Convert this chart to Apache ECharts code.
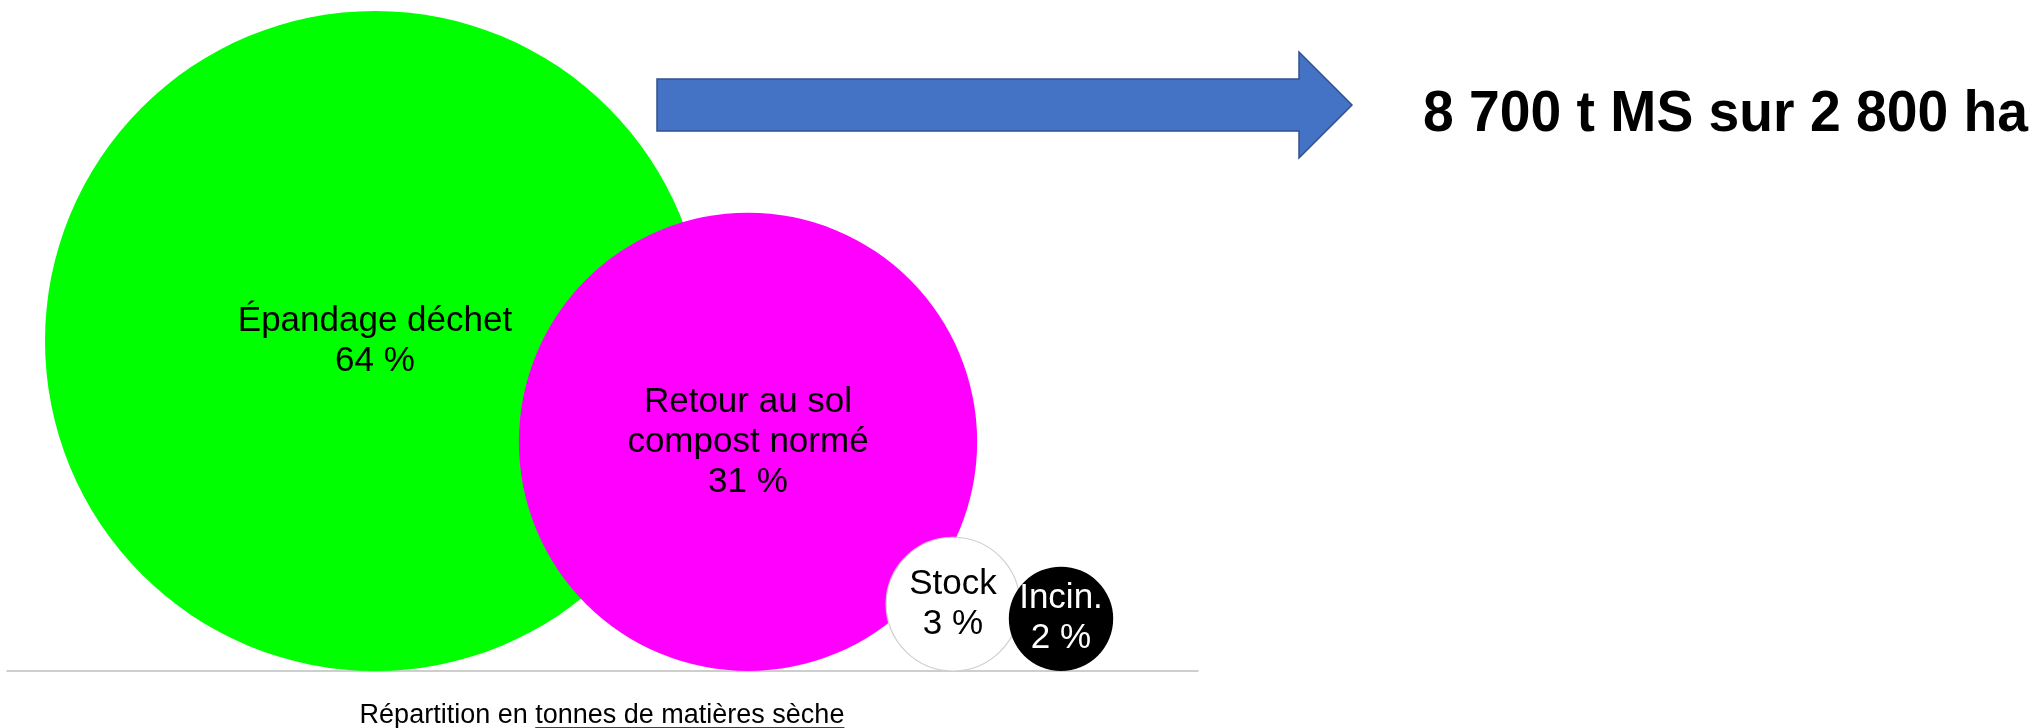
<!DOCTYPE html>
<html>
<head>
<meta charset="utf-8">
<script src="https://cdn.jsdelivr.net/npm/echarts@6/dist/echarts.min.js"></script>
<style>
  html, body { margin: 0; padding: 0; background: #ffffff; }
  #chart { width: 2041px; height: 728px; }
</style>
</head>
<body>
<div id="chart"></div>
<script>
// ---- data ----
const categories = ['Épandage déchet', 'Retour au sol\ncompost normé', 'Stock', 'Incin.'];
const percents = [64, 31, 3, 2];
const tonnes = [5600, 2700, 230, 140];          // t MS
const xCenters = [368, 741, 946, 1054];          // bubble positions along the baseline
const headline = '8 700 t MS sur 2 800 ha';
const captionPlain = 'Répartition en ';
const captionUnderlined = 'tonnes de matières sèche';

// ---- styles ----
const colors = ['#00ff00', '#ff00ff', '#ffffff', '#000000'];
const labelColors = ['#000000', '#000000', '#000000', '#ffffff'];
const sizeK = 8.82;                               // diameter = k * sqrt(tonnes)
const diam = v => sizeK * Math.sqrt(v);

const data = categories.map((c, i) => ({
  name: c,
  value: [xCenters[i], diam(tonnes[i]) / 2, tonnes[i], percents[i]],
  symbolSize: diam(tonnes[i]),
  itemStyle: {
    color: colors[i],
    opacity: 1,
    borderColor: i === 2 ? '#cfcfcf' : colors[i],
    borderWidth: i === 2 ? 1.2 : 0
  },
  label: { color: labelColors[i] }
}));

// text measurement
const ctx = document.createElement('canvas').getContext('2d');
const capFont = '27px "Liberation Sans", Arial, sans-serif';
ctx.font = capFont;
const w1 = ctx.measureText(captionPlain).width;
const w2 = ctx.measureText(captionUnderlined).width;
const capCenter = 602;
const capLeft = capCenter - (w1 + w2) / 2;
const capY = 716;

const headFont = 'bold 57px "Liberation Sans", Arial, sans-serif';
ctx.font = headFont;
const headW = ctx.measureText(headline).width;
const headScale = 605 / headW;

const chart = echarts.init(document.getElementById('chart'), null, { renderer: 'canvas' });
chart.setOption({
  backgroundColor: '#ffffff',
  animation: false,
  grid: { left: 7, top: 0, width: 1191, height: 671, containLabel: false },
  xAxis: {
    type: 'value', min: 0, max: 1191,
    axisLine: { show: true, lineStyle: { color: '#bfbfbf', width: 1.5 } },
    axisTick: { show: false }, axisLabel: { show: false }, splitLine: { show: false }
  },
  yAxis: {
    type: 'value', min: 0, max: 671,
    axisLine: { show: false }, axisTick: { show: false },
    axisLabel: { show: false }, splitLine: { show: false }
  },
  series: [{
    type: 'scatter',
    clip: false,
    symbol: 'circle',
    data: data,
    itemStyle: { opacity: 1 },
    label: {
      show: true,
      position: 'inside',
      fontFamily: '"Liberation Sans", Arial, sans-serif',
      fontSize: 35,
      lineHeight: 40,
      align: 'center',
      formatter: p => p.name + '\n' + p.value[3] + ' %'
    },
    emphasis: { disabled: true }
  }],
  graphic: [
    {
      type: 'polygon',
      shape: { points: [[657, 79], [1299, 79], [1299, 52], [1352, 105], [1299, 158], [1299, 131], [657, 131]] },
      style: { fill: '#4472c4', stroke: '#2f528f', lineWidth: 1.5 }
    },
    {
      type: 'text', x: 1423, y: 115, scaleX: headScale,
      style: {
        text: headline, fill: '#000000',
        font: headFont,
        verticalAlign: 'middle', align: 'left'
      }
    },
    {
      type: 'text', x: capLeft, y: capY,
      style: { text: captionPlain, fill: '#000000', font: capFont, verticalAlign: 'middle', align: 'left' }
    },
    {
      type: 'text', x: capLeft + w1, y: capY,
      style: { text: captionUnderlined, fill: '#000000', font: capFont, verticalAlign: 'middle', align: 'left' }
    },
    {
      type: 'line',
      shape: { x1: capLeft + w1, y1: capY + 12, x2: capLeft + w1 + w2, y2: capY + 12 },
      style: { stroke: '#000000', lineWidth: 1.3 }
    }
  ]
});
</script>
</body>
</html>
